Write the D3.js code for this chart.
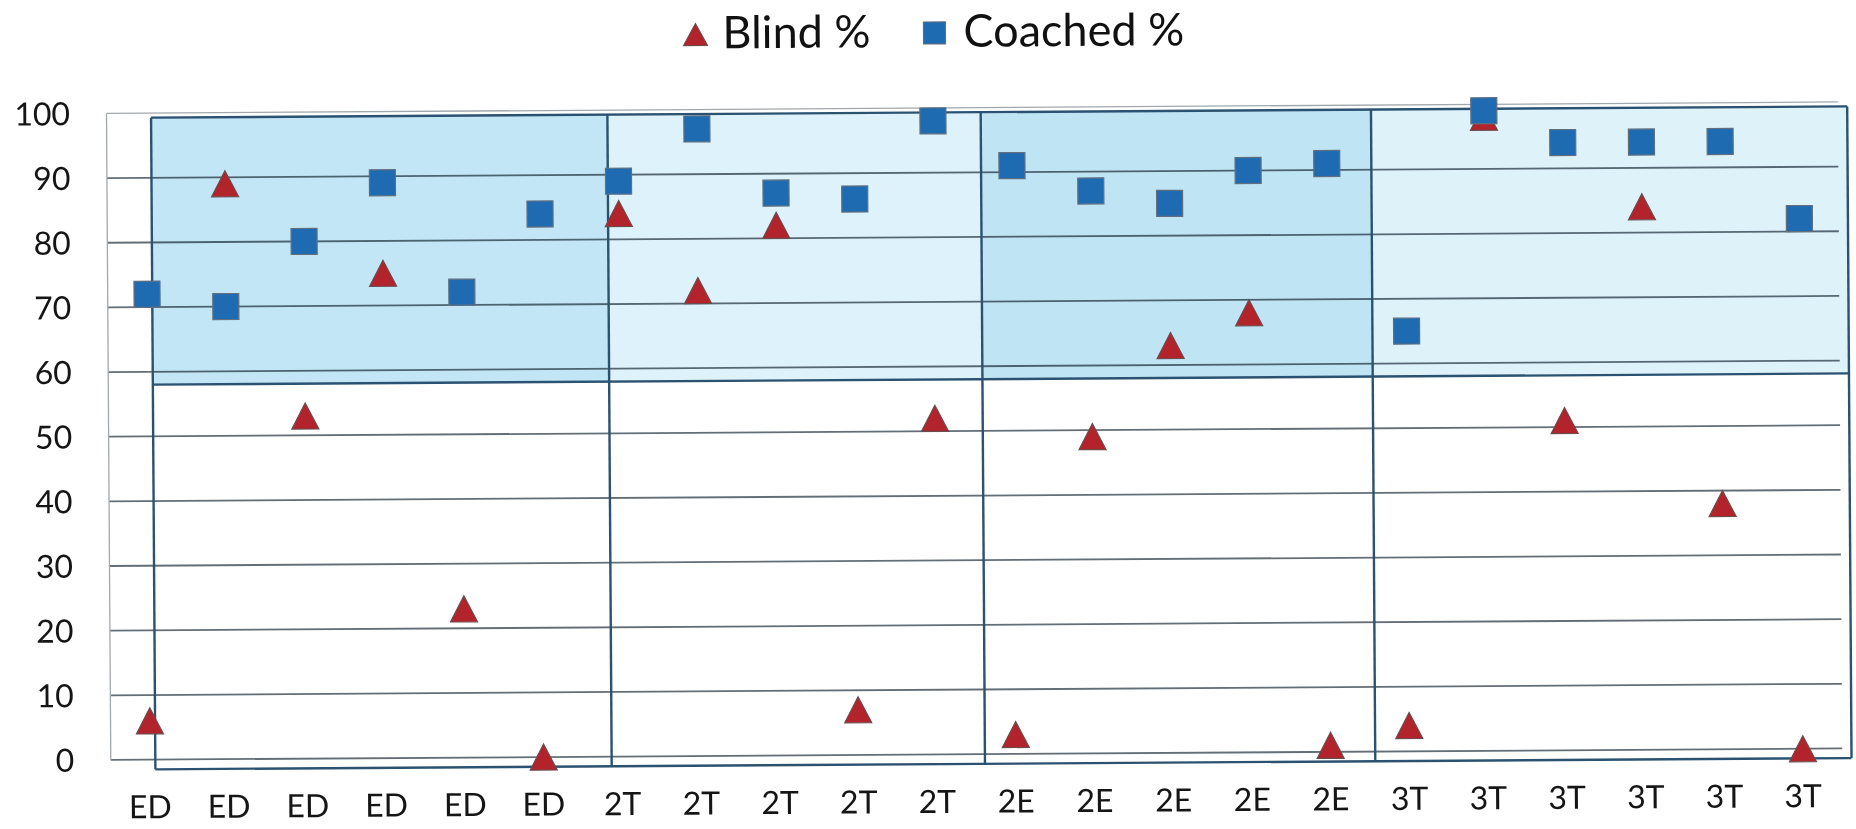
<!DOCTYPE html>
<html>
<head>
<meta charset="utf-8">
<script src="https://cdn.jsdelivr.net/npm/d3@7"></script>
<style>
  html, body { margin: 0; padding: 0; background: #ffffff; }
  svg { display: block; font-family: Lato, "Open Sans", "Noto Sans", sans-serif; }
</style>
</head>
<body>
<svg id="chart" width="1856" height="829"></svg>
<script>
// ---- data ----
const categories = ["ED","ED","ED","ED","ED","ED","2T","2T","2T","2T","2T","2E","2E","2E","2E","2E","3T","3T","3T","3T","3T","3T"];
const blindPct   = [6, 89, 53, 75, 23, 0, 84, 72, 82, 7, 52, 3, 49, 63, 68, 1, 4, 98, 51, 84, 38, 0];
const coachedPct = [72, 70, 80, 89, 72, 84, 89, 97, 87, 86, 98, 91, 87, 85, 90, 91, 65, 99, 94, 94, 94, 82];
const yTicks = [0, 10, 20, 30, 40, 50, 60, 70, 80, 90, 100];
const seriesNames = ["Blind %", "Coached %"];
// group panels: edges in category-index units, highlighted target band in %
const groupEdges = [0.066, 5.864, 10.607, 15.566, 21.617];
const targetBand = [58, 99.3];
const frameFloor = -1.5;

// ---- layout ----
const plot = { left: 108.5, right: 1840, top: 108, bottom: 754.5 };
const svg = d3.select("#chart");

const x = d3.scalePoint()
  .domain(d3.range(categories.length))
  .range([plot.left, plot.right])
  .padding(0.5);
const xi = d3.scaleLinear()
  .domain([0, categories.length - 1])
  .range([x(0), x(categories.length - 1)]);
const y = d3.scaleLinear().domain([0, 100]).range([plot.bottom, plot.top]);

// whole drawing sits slightly tilted, as on the printed page
const g = svg.append("g").attr("transform", "rotate(-0.38 928 414)");

// panel fills
const panelFills = ["#c2e6f5", "#ddf2fa", "#bfe5f4", "#def2fa"];

// gridlines
const grid = g.append("g");
grid.selectAll("line.h")
  .data(yTicks)
  .join("line")
  .attr("x1", plot.left).attr("x2", plot.right)
  .attr("y1", d => y(d)).attr("y2", d => y(d))
  .attr("stroke", d => d === 100 ? "#a3a8ac" : "#646e76")
  .attr("stroke-width", d => d === 100 ? 1.3 : 1.8);
grid.append("line")
  .attr("x1", plot.left).attr("x2", plot.left)
  .attr("y1", y(100)).attr("y2", y(0))
  .attr("stroke", "#a3a8ac").attr("stroke-width", 1.3);

// shaded target band per group
const panels = d3.range(groupEdges.length - 1).map(i => ({ a: groupEdges[i], b: groupEdges[i + 1], fill: panelFills[i] }));
g.append("g").style("mix-blend-mode", "multiply")
  .selectAll("rect")
  .data(panels)
  .join("rect")
  .attr("x", d => xi(d.a))
  .attr("width", d => xi(d.b) - xi(d.a))
  .attr("y", y(targetBand[1]))
  .attr("height", y(targetBand[0]) - y(targetBand[1]))
  .attr("fill", d => d.fill);

// group frame
const frame = g.append("g").attr("stroke", "#2b5271").attr("stroke-width", 2.4).attr("fill", "none");
const xa = xi(groupEdges[0]), xb = xi(groupEdges[groupEdges.length - 1]);
[targetBand[1], targetBand[0], frameFloor].forEach(v => {
  frame.append("line").attr("x1", xa).attr("x2", xb).attr("y1", y(v)).attr("y2", y(v));
});
frame.selectAll("line.v")
  .data(groupEdges)
  .join("line")
  .attr("x1", d => xi(d)).attr("x2", d => xi(d))
  .attr("y1", y(targetBand[1])).attr("y2", y(frameFloor));

// axis labels
g.append("g")
  .selectAll("text")
  .data(yTicks)
  .join("text")
  .attr("x", 72)
  .attr("y", d => y(d))
  .attr("dy", "0.36em")
  .attr("text-anchor", "end")
  .attr("font-size", 32)
  .attr("fill", "#151515")
  .text(d => d);

g.append("g")
  .selectAll("text")
  .data(categories)
  .join("text")
  .attr("x", (d, i) => x(i))
  .attr("y", 813)
  .attr("text-anchor", "middle")
  .attr("font-size", 32)
  .attr("fill", "#151515")
  .text(d => d);

// markers
const TRI_W = 27, TRI_H = 26, SQ = 26;
const triPath = (w, h) => `M0,${-h / 2}L${w / 2},${h / 2}L${-w / 2},${h / 2}Z`;
const triColor = "#b2232b", triStroke = "#6d4a4c";
const sqColor = "#1f6bb2", sqStroke = "#5f6f80";

g.append("g")
  .selectAll("path")
  .data(blindPct)
  .join("path")
  .attr("d", triPath(TRI_W, TRI_H))
  .attr("transform", (d, i) => `translate(${x(i)},${y(d)})`)
  .attr("fill", triColor)
  .attr("stroke", triStroke)
  .attr("stroke-width", 1.2);

g.append("g")
  .selectAll("rect")
  .data(coachedPct)
  .join("rect")
  .attr("x", (d, i) => x(i) - SQ / 2)
  .attr("y", d => y(d) - SQ / 2)
  .attr("width", SQ).attr("height", SQ)
  .attr("fill", sqColor)
  .attr("stroke", sqStroke)
  .attr("stroke-width", 1.2);

// legend
const legend = g.append("g");
const legendItems = [
  { name: seriesNames[0], mx: 698, tx: 725, kind: "tri" },
  { name: seriesNames[1], mx: 937, tx: 966, kind: "sq" }
];
legendItems.forEach(it => {
  if (it.kind === "tri") {
    legend.append("path").attr("d", triPath(24, 22))
      .attr("transform", `translate(${it.mx},33)`)
      .attr("fill", triColor).attr("stroke", triStroke).attr("stroke-width", 1.1);
  } else {
    legend.append("rect").attr("x", it.mx - 11).attr("y", 22).attr("width", 22).attr("height", 22)
      .attr("fill", sqColor).attr("stroke", sqStroke).attr("stroke-width", 1.1);
  }
  legend.append("text").attr("x", it.tx).attr("y", 47)
    .attr("font-size", 45).attr("fill", "#111").text(it.name);
});
</script>
</body>
</html>
